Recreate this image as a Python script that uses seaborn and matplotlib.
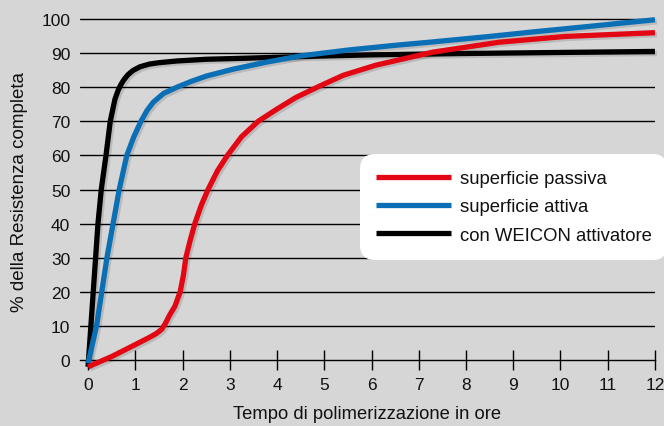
import matplotlib
matplotlib.use("Agg")
import matplotlib.pyplot as plt
import matplotlib.patheffects as pe
import pandas as pd
import seaborn as sns


# curve readings (hours, % of full strength)
black_x = [0, 0.06, 0.11, 0.16, 0.21, 0.28, 0.38, 0.47, 0.57, 0.64, 0.7, 0.76, 0.84, 0.95, 1.1, 1.3, 1.5, 1.88, 2.5, 3.3, 4.5, 6, 8, 10, 12]
black_y = [-2, 10, 20, 30, 40, 50, 60, 70, 76.5, 79.2, 80.9, 82.2, 83.6, 84.9, 86, 86.8, 87.2, 87.7, 88.2, 88.5, 89.0, 89.5, 89.9, 90.2, 90.5]

blue_x = [0, 0.18, 0.29, 0.40, 0.53, 0.66, 0.82, 0.97, 1.12, 1.25, 1.38, 1.6, 1.88, 2.2, 2.51, 3.07, 3.79, 4.5, 5.5, 6.5, 7.3, 8.5, 9.4, 10.5, 12]
blue_y = [-1, 10, 20, 30, 40, 50, 60, 65.5, 70, 73.2, 75.6, 78.2, 80, 81.8, 83.3, 85.3, 87.4, 89.2, 90.9, 92.3, 93.3, 94.9, 96.2, 97.7, 99.8]

red_x = [0, 0.5, 1.0, 1.31, 1.45, 1.56, 1.64, 1.72, 1.84, 1.95, 2.02, 2.07, 2.16, 2.26, 2.4, 2.54, 2.74, 2.95, 3.25, 3.6, 4.0, 4.4, 4.85, 5.4, 6.1, 7.3, 8.7, 10.1, 12]
red_y = [-2, 1.0, 4.5, 6.7, 7.8, 9, 10.8, 13, 15.8, 20, 25, 30, 35, 40, 45.5, 50, 55.5, 60, 65.5, 70, 73.6, 77, 80, 83.5, 86.5, 90.3, 93.2, 94.9, 96]

series_labels = ["superficie passiva", "superficie attiva", "con WEICON attivatore"]
series_colors = ["#e30613", "#0a6fb5", "#000000"]

x_ticks = list(range(0, 13))
y_ticks = list(range(0, 101, 10))

BG = "#d6d6d6"
TXT = "#111111"

sns.set_theme(style="white")
plt.rcParams["font.family"] = ["Liberation Sans", "DejaVu Sans"]

fig = plt.figure(figsize=(6.64, 4.27), dpi=100, facecolor=BG)
ax = fig.add_axes([0.1205, 0.1307, 0.8659, 0.8383])
ax.set_facecolor(BG)

for y in y_ticks[1:]:
    ax.axhline(y, color="black", lw=1.0, zorder=1)

shadow = [pe.SimpleLineShadow(offset=(1.5, -1.5), shadow_color="black", alpha=0.13), pe.Normal()]

curves = [
    (red_x, red_y, series_labels[0], series_colors[0]),
    (blue_x, blue_y, series_labels[1], series_colors[1]),
    (black_x, black_y, series_labels[2], series_colors[2]),
]
# draw black first, red on top
for xs, ys, label, color in reversed(curves):
    df = pd.DataFrame({"ore": xs, "resistenza": ys})
    sns.lineplot(data=df, x="ore", y="resistenza", color=color, lw=3.8, ax=ax,
                 label=label, zorder=3, solid_capstyle="butt", solid_joinstyle="round")
for line in ax.lines[len(y_ticks) - 1:]:
    line.set_path_effects(shadow)
    line.set_clip_on(False)

ax.set_xlim(-0.17, 12)
ax.set_ylim(-3, 102)
ax.set_xticks(x_ticks)
ax.set_yticks(y_ticks)

for side in ["top", "right", "left"]:
    ax.spines[side].set_visible(False)
ax.spines["bottom"].set_position(("data", 0))
ax.spines["bottom"].set_color("black")
ax.spines["bottom"].set_linewidth(1.0)
ax.spines["bottom"].set_zorder(1)

ax.tick_params(axis="x", bottom=True, direction="inout", length=14, width=1.0, color="black",
               labelsize=12.5, pad=5, labelcolor=TXT)
ax.tick_params(axis="y", left=True, length=0, labelsize=12.5, pad=7, labelcolor=TXT)

ax.set_xlabel("Tempo di polimerizzazione in ore", fontsize=13.2, color=TXT)
ax.xaxis.set_label_coords(0.5, -0.097)
ax.set_ylabel("% della Resistenza completa", fontsize=13.5, color=TXT)
ax.yaxis.set_label_coords(-0.09, 0.5)

handles, labels = ax.get_legend_handles_labels()
order = [labels.index(lbl) for lbl in series_labels]
ax.get_legend().remove()
leg = fig.legend([handles[i] for i in order], [labels[i] for i in order],
                 loc="upper left", bbox_to_anchor=(0.545, 0.632),
                 frameon=True, facecolor="white", edgecolor="none", framealpha=1.0,
                 fancybox=True, fontsize=13.3, handlelength=4.1, handletextpad=0.45,
                 borderpad=0.75, labelspacing=0.62, borderaxespad=0)
leg.get_frame().set_boxstyle("round,pad=0.1,rounding_size=0.8")
for h in leg.legend_handles:
    h.set_linewidth(3.8)
    h.set_path_effects([])
for t in leg.get_texts():
    t.set_color(TXT)

fig.savefig("out.png", dpi=100, facecolor=BG)
